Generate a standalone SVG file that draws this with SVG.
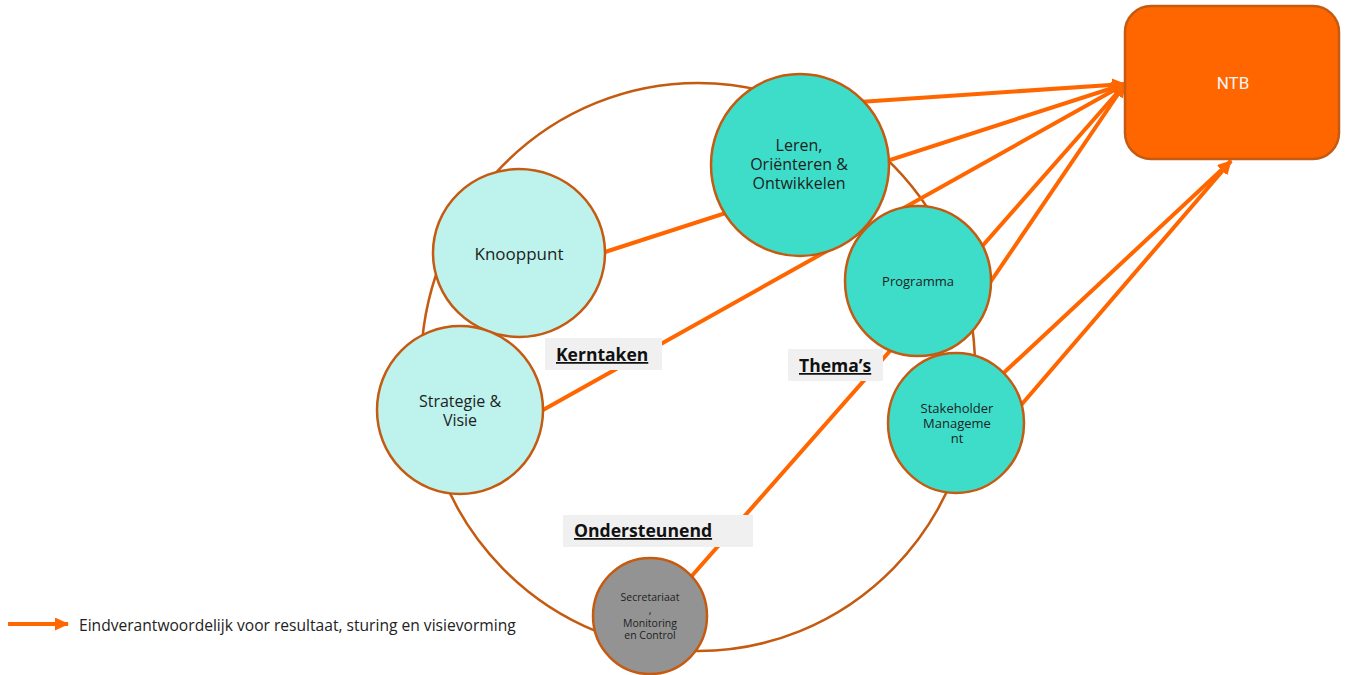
<svg xmlns="http://www.w3.org/2000/svg" width="1347" height="675" viewBox="0 0 1347 675">
  <style>
    .ring { fill: none; stroke: #C55A11; stroke-width: 2.5; }
    .node { stroke: #C55A11; stroke-width: 2.5; }
    .light { fill: #BDF3EC; }
    .teal { fill: #3DDDC9; }
    .grey { fill: #939393; }
    .flow { stroke: #FF6600; stroke-width: 4; fill: none; marker-end: url(#head); }
    .lbl { font-family: "Open Sans", "Noto Sans", sans-serif; fill: #1E1E1E; text-anchor: middle; }
    .tag { fill: #F0F0F0; }
    .tagtxt { font-family: "Open Sans", "Noto Sans", sans-serif; font-weight: bold; fill: #111; text-decoration: underline; }
  </style>
  <defs>
    <marker id="head" markerUnits="userSpaceOnUse" markerWidth="16" markerHeight="14" refX="13" refY="6.5" orient="auto">
      <path d="M0,0 L14,6.5 L0,13 z" fill="#FF6600"/>
    </marker>
  </defs>

  <rect width="1347" height="675" fill="#FFFFFF"/>

  <!-- outer ring tying the groups together -->
  <ellipse class="ring" cx="698" cy="367" rx="277" ry="284"/>

  <!-- accountability arrows towards NTB -->
  <g id="connectors">
    <line class="flow" x1="800" y1="106" x2="1125" y2="84"/>
    <line class="flow" x1="605" y1="252" x2="1125" y2="84"/>
    <line class="flow" x1="543" y1="410" x2="1125" y2="84"/>
    <line class="flow" x1="690" y1="578" x2="1125" y2="84"/>
    <line class="flow" x1="985" y1="290" x2="1125" y2="84"/>
    <line class="flow" x1="980" y1="395" x2="1231" y2="161"/>
    <line class="flow" x1="1010" y1="418" x2="1231" y2="161"/>
  </g>

  <!-- group labels -->
  <g id="label-kerntaken">
    <rect class="tag" x="545" y="338" width="117" height="32"/>
    <text class="tagtxt" x="556" y="361" font-size="17.5">Kerntaken</text>
  </g>
  <g id="label-themas">
    <rect class="tag" x="788" y="349" width="95" height="32"/>
    <text class="tagtxt" x="799" y="372" font-size="17.5">Thema’s</text>
  </g>
  <g id="label-ondersteunend">
    <rect class="tag" x="563" y="515" width="190" height="32"/>
    <text class="tagtxt" x="574" y="537" font-size="17.6">Ondersteunend</text>
  </g>

  <g id="node-knooppunt">
    <ellipse class="node light" cx="519" cy="253" rx="86" ry="84"/>
    <text class="lbl" x="519" y="260" font-size="17">Knooppunt</text>
  </g>

  <g id="node-strategie">
    <ellipse class="node light" cx="460" cy="410" rx="83" ry="84"/>
    <text class="lbl" x="460" y="407" font-size="16">Strategie &amp;</text>
    <text class="lbl" x="460" y="426" font-size="16">Visie</text>
  </g>

  <g id="node-leren">
    <ellipse class="node teal" cx="800" cy="165" rx="89" ry="91"/>
    <text class="lbl" x="799" y="151" font-size="16">Leren,</text>
    <text class="lbl" x="799" y="170" font-size="16">Oriënteren &amp;</text>
    <text class="lbl" x="799" y="189" font-size="16">Ontwikkelen</text>
  </g>

  <g id="node-programma">
    <ellipse class="node teal" cx="918" cy="281" rx="73" ry="75"/>
    <text class="lbl" x="918" y="286" font-size="13">Programma</text>
  </g>

  <g id="node-stakeholder">
    <ellipse class="node teal" cx="956" cy="423" rx="68" ry="70"/>
    <text class="lbl" x="957" y="413" font-size="13">Stakeholder</text>
    <text class="lbl" x="957" y="428" font-size="13">Manageme</text>
    <text class="lbl" x="957" y="443" font-size="13">nt</text>
  </g>

  <g id="node-secretariaat">
    <ellipse class="node grey" cx="650" cy="616" rx="57" ry="58"/>
    <text class="lbl" x="650" y="601" font-size="10.5">Secretariaat</text>
    <text class="lbl" x="650" y="614" font-size="10.5">,</text>
    <text class="lbl" x="650" y="627" font-size="10.5">Monitoring</text>
    <text class="lbl" x="650" y="639" font-size="10.5">en Control</text>
  </g>

  <g id="node-ntb">
    <rect x="1125" y="6" width="214" height="153" rx="26" ry="26" fill="#FF6600" stroke="#C55A11" stroke-width="2.5"/>
    <text x="1233" y="89" font-family="Roboto, 'Open Sans', sans-serif" font-size="17" fill="#F5F5F5" text-anchor="middle">NTB</text>
  </g>

  <!-- legend -->
  <g id="legend">
    <line class="flow" x1="8" y1="624" x2="68" y2="624"/>
    <text x="79" y="631" font-family="'Open Sans', 'Noto Sans', sans-serif" font-size="15.6" fill="#222">Eindverantwoordelijk voor resultaat, sturing en visievorming</text>
  </g>
</svg>
